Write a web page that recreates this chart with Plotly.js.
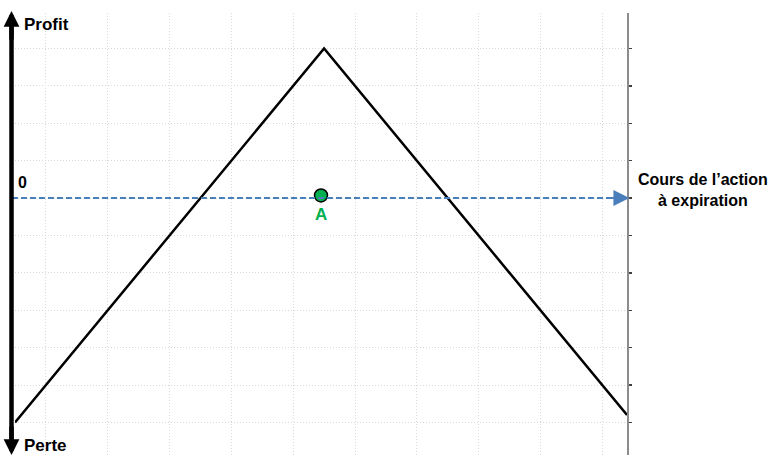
<!DOCTYPE html>
<html>
<head>
<meta charset="utf-8">
<script src="https://cdn.plot.ly/plotly-3.0.1.min.js"></script>
<style>html,body{margin:0;padding:0;background:#fff;}#chart{width:775px;height:471px;}</style>
</head>
<body>
<div id="chart"></div>
<script>
// Payoff profile (short straddle shape)
var payoffX = [0.5, 5.5, 10.4];
var payoffY = [-6, 4, -5.8];
// Point A on the zero line
var pointX = [5.45];
var pointY = [0.07];
var pointLabel = ["A"];
// Axis labels
var labelProfit = "Profit";
var labelLoss = "Perte";
var labelZero = "0";
var labelPrice = "Cours de l\u2019action<br>à expiration";

var FONT = "Liberation Sans, Arial, sans-serif";

var traces = [
  {x: payoffX, y: payoffY, type: "scatter", mode: "lines",
   line: {color: "#000000", width: 2.5}, hoverinfo: "skip"},
  {x: pointX, y: pointY, type: "scatter", mode: "markers",
   marker: {size: 13, color: "#00b050", line: {color: "#000000", width: 1.5}}, hoverinfo: "skip"}
];

var layout = {
  width: 775, height: 471,
  margin: {l: 15, r: 148, t: 13, b: 16, pad: 0},
  paper_bgcolor: "#ffffff", plot_bgcolor: "#ffffff",
  showlegend: false,
  xaxis: {range: [0.5, 10.4], dtick: 1, tick0: 0, showgrid: true, gridcolor: "#d9d9d9",
          griddash: "1px,2px", gridwidth: 1, zeroline: false, showticklabels: false,
          showline: false, ticks: "", fixedrange: true},
  yaxis: {range: [-6.87, 4.95], dtick: 1, tick0: 0, showgrid: true, gridcolor: "#d9d9d9",
          griddash: "1px,2px", gridwidth: 1, zeroline: false, showticklabels: false,
          side: "right", showline: true, linecolor: "#8c8c8c", linewidth: 2,
          ticks: "outside", ticklen: 3, tickwidth: 1.5, tickcolor: "#404040", fixedrange: true},
  shapes: [
    // blue dashed price axis
    {type: "line", xref: "paper", yref: "y", x0: -0.005, x1: 0.985, y0: 0, y1: 0,
     line: {color: "#4a7ebb", width: 2, dash: "6px,3px"}},
    // left thick vertical axis
    {type: "line", xref: "paper", yref: "paper", x0: -0.0057, x1: -0.0057, y0: 0.02, y1: 0.98,
     line: {color: "#000000", width: 4.5}}
  ],
  annotations: [
    // left arrow heads
    {xref: "paper", yref: "paper", x: -0.0057, y: 1.0045, ax: 0, ay: 30, axref: "pixel", ayref: "pixel",
     showarrow: true, arrowhead: 2, arrowsize: 0.7, arrowwidth: 4.5, arrowcolor: "#000000", text: ""},
    {xref: "paper", yref: "paper", x: -0.0057, y: 0.0, ax: 0, ay: -30, axref: "pixel", ayref: "pixel",
     showarrow: true, arrowhead: 2, arrowsize: 0.7, arrowwidth: 4.5, arrowcolor: "#000000", text: ""},
    // blue arrow head
    {xref: "paper", yref: "y", x: 1.004, y: 0, ax: -20, ay: 0, axref: "pixel", ayref: "pixel",
     showarrow: true, arrowhead: 2, arrowsize: 1.6, arrowwidth: 2, arrowcolor: "#4a7ebb", text: ""},
    {xref: "paper", yref: "paper", x: 0.0114, y: 0.973, xanchor: "left", yanchor: "middle",
     text: "<b>" + labelProfit + "</b>", showarrow: false, font: {family: FONT, size: 17, color: "#000000"}},
    {xref: "paper", yref: "paper", x: 0.0114, y: 0.0205, xanchor: "left", yanchor: "middle",
     text: "<b>" + labelLoss + "</b>", showarrow: false, font: {family: FONT, size: 17, color: "#000000"}},
    {xref: "paper", yref: "paper", x: 0.0016, y: 0.6176, xanchor: "left", yanchor: "middle",
     text: "<b>" + labelZero + "</b>", showarrow: false, font: {family: FONT, size: 16, color: "#000000"}},
    {xref: "paper", yref: "paper", x: 1.124, y: 0.5995, xanchor: "center", yanchor: "middle",
     text: "<b>" + labelPrice + "</b>", showarrow: false, font: {family: FONT, size: 16, color: "#000000"}},
    {xref: "x", yref: "y", x: pointX[0], y: -0.43, xanchor: "center", yanchor: "middle",
     text: "<b>" + pointLabel[0] + "</b>", showarrow: false, font: {family: FONT, size: 17, color: "#00b050"}}
  ]
};

Plotly.newPlot("chart", traces, layout, {displayModeBar: false, staticPlot: true});
</script>
</body>
</html>
